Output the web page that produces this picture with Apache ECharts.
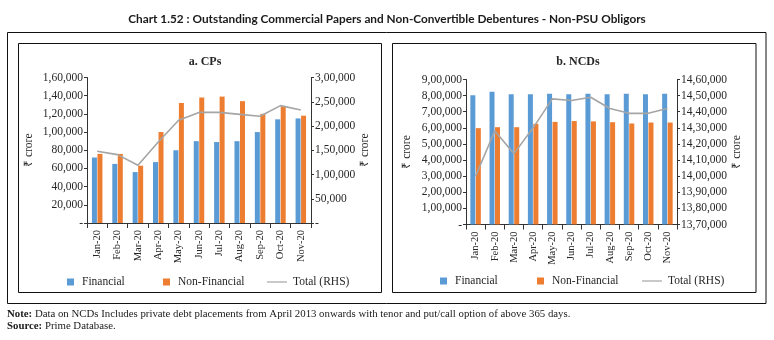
<!DOCTYPE html>
<html>
<head>
<meta charset="utf-8">
<script src="https://cdn.jsdelivr.net/npm/echarts@6/dist/echarts.min.js"></script>
<style>
  html, body { margin: 0; padding: 0; background: #fff; }
  #chart { width: 774px; height: 340px; }
</style>
</head>
<body>
<div id="chart"></div>
<script>
// Month categories shared by both panels
const months = ['Jan-20', 'Feb-20', 'Mar-20', 'Apr-20', 'May-20', 'Jun-20', 'Jul-20', 'Aug-20', 'Sep-20', 'Oct-20', 'Nov-20'];

// a. Commercial papers outstanding (₹ crore)
const cpFinancial    = [72000, 65000, 56000, 67000, 80000, 90000, 89000, 90000, 100000, 114000, 115000];
const cpNonFinancial = [76000, 76000, 63000, 100000, 132000, 138000, 139000, 134000, 120000, 128000, 118000];
const cpTotal        = [148000, 141000, 119000, 167000, 212000, 228000, 228000, 224000, 220000, 242000, 233000];

// b. Non-convertible debentures outstanding (₹ crore)
const ncdFinancial    = [803000, 824000, 809000, 809000, 811000, 809000, 811000, 809000, 811000, 809000, 811000];
const ncdNonFinancial = [598000, 604000, 604000, 625000, 637000, 642000, 640000, 635000, 627000, 633000, 633000];
const ncdTotal        = [1400000, 1428000, 1414000, 1430000, 1448000, 1447000, 1449000, 1442000, 1439000, 1439000, 1442000];

// Axis ranges [min, max, interval]
const cpLeftAxis   = [0, 160000, 20000];
const cpRightAxis  = [0, 300000, 50000];
const ncdLeftAxis  = [0, 900000, 100000];
const ncdRightAxis = [1370000, 1460000, 10000];

const BLUE = '#5B9BD5', ORANGE = '#ED7D31', GREY = '#A5A5A5';
const SERIF = 'Liberation Serif';
const TEXT = '#262626';

// Indian digit grouping: 1,60,000 / 14,60,000; zero shown as a dash
function indian(v) {
  if (v === 0) return '-';
  const s = String(Math.round(v));
  const last3 = s.slice(-3);
  let rest = s.slice(0, -3);
  if (rest) rest = rest.replace(/\B(?=(\d{2})+(?!\d))/g, ',') + ',';
  return rest + last3;
}

const axisLine = { show: true, lineStyle: { color: '#333', width: 1 } };

function valueAxis(range, gridIndex, position, nameGap) {
  return {
    type: 'value', gridIndex, position,
    min: range[0], max: range[1], interval: range[2],
    name: '₹ crore', nameLocation: 'middle', nameGap, nameRotate: 90,
    nameTextStyle: { fontFamily: SERIF, fontSize: 11.5, color: TEXT },
    axisLine, axisTick: { show: true, length: 3, lineStyle: { color: '#333' } },
    splitLine: { show: false },
    axisLabel: { formatter: indian, fontFamily: SERIF, fontSize: 11.5, color: TEXT, margin: 4 }
  };
}

function catAxis(gridIndex) {
  return {
    type: 'category', gridIndex, data: months,
    axisLine, axisTick: { show: true, length: 5, lineStyle: { color: '#333' } },
    axisLabel: { rotate: 90, fontFamily: SERIF, fontSize: 10.5, color: TEXT, margin: 7, interval: 0 }
  };
}

function barSeries(name, data, color, xi, yi) {
  return {
    type: 'bar', name, data, xAxisIndex: xi, yAxisIndex: yi,
    barWidth: 5, barGap: '10%',
    itemStyle: { color }
  };
}

function lineSeries(data, xi, yi) {
  return {
    type: 'line', name: 'Total (RHS)', data, xAxisIndex: xi, yAxisIndex: yi,
    symbol: 'none', lineStyle: { color: GREY, width: 1.6 }, itemStyle: { color: GREY }
  };
}

function legendItem(name, left, top, isLine) {
  return {
    data: [{ name, icon: 'rect' }],
    left, top, orient: 'horizontal',
    itemWidth: isLine ? 20 : 7, itemHeight: isLine ? 1.2 : 7, itemGap: 0,
    selectedMode: false,
    textStyle: { fontFamily: SERIF, fontSize: 11.5, color: TEXT, padding: [0, 0, 0, isLine ? 1 : 3] }
  };
}

const chart = echarts.init(document.getElementById('chart'), null, { renderer: 'canvas' });

chart.setOption({
  animation: false,
  backgroundColor: '#fff',
  title: [
    { text: 'Chart 1.52 : Outstanding Commercial Papers and Non-Convertible Debentures - Non-PSU Obligors',
      left: 'center', top: 8,
      textStyle: { fontFamily: 'Lato', fontWeight: 'bold', fontSize: 11.8, color: '#1a1a1a' } },
    { text: 'a. CPs', left: 200, top: 51, textAlign: 'center',
      textStyle: { fontFamily: SERIF, fontWeight: 'bold', fontSize: 12, color: TEXT } },
    { text: 'b. NCDs', left: 573, top: 51, textAlign: 'center',
      textStyle: { fontFamily: SERIF, fontWeight: 'bold', fontSize: 12, color: TEXT } }
  ],
  grid: [
    { left: 87, top: 77.5, width: 224, height: 145.5, containLabel: false },
    { left: 466, top: 79.5, width: 211, height: 145, containLabel: false }
  ],
  xAxis: [catAxis(0), catAxis(1)],
  yAxis: [
    valueAxis(cpLeftAxis, 0, 'left', 52),
    valueAxis(cpRightAxis, 0, 'right', 47),
    valueAxis(ncdLeftAxis, 1, 'left', 53),
    valueAxis(ncdRightAxis, 1, 'right', 54)
  ],
  legend: [
    legendItem('Financial', 62, 271, false),
    legendItem('Non-Financial', 158, 271, false),
    legendItem('Total (RHS)', 262, 271, true),
    legendItem('Financial', 435, 270, false),
    legendItem('Non-Financial', 532, 270, false),
    legendItem('Total (RHS)', 637, 270, true)
  ],
  series: [
    barSeries('Financial', cpFinancial, BLUE, 0, 0),
    barSeries('Non-Financial', cpNonFinancial, ORANGE, 0, 0),
    lineSeries(cpTotal, 0, 1),
    barSeries('Financial', ncdFinancial, BLUE, 1, 2),
    barSeries('Non-Financial', ncdNonFinancial, ORANGE, 1, 2),
    lineSeries(ncdTotal, 1, 3)
  ],
  graphic: [
    { type: 'rect', shape: { x: 7.5, y: 32.5, width: 758.5, height: 271 }, silent: true,
      style: { fill: 'none', stroke: '#111', lineWidth: 1 } },
    { type: 'rect', shape: { x: 18.5, y: 43.5, width: 363, height: 249 }, silent: true,
      style: { fill: 'none', stroke: '#111', lineWidth: 1 } },
    { type: 'rect', shape: { x: 392.5, y: 43.5, width: 363.5, height: 249 }, silent: true,
      style: { fill: 'none', stroke: '#111', lineWidth: 1 } },
    { type: 'text', left: 7, top: 309, silent: true,
      style: { text: '{b|Note:} Data on NCDs Includes private debt placements from April 2013 onwards with tenor and put/call option of above 365 days.',
        font: '10.8px "Liberation Serif"', fill: '#1a1a1a',
        rich: { b: { fontWeight: 'bold', fontFamily: SERIF, fontSize: 10.8, fill: '#1a1a1a' } } } },
    { type: 'text', left: 7, top: 320.5, silent: true,
      style: { text: '{b|Source:} Prime Database.',
        font: '10.8px "Liberation Serif"', fill: '#1a1a1a',
        rich: { b: { fontWeight: 'bold', fontFamily: SERIF, fontSize: 10.8, fill: '#1a1a1a' } } } }
  ]
});
</script>
</body>
</html>
